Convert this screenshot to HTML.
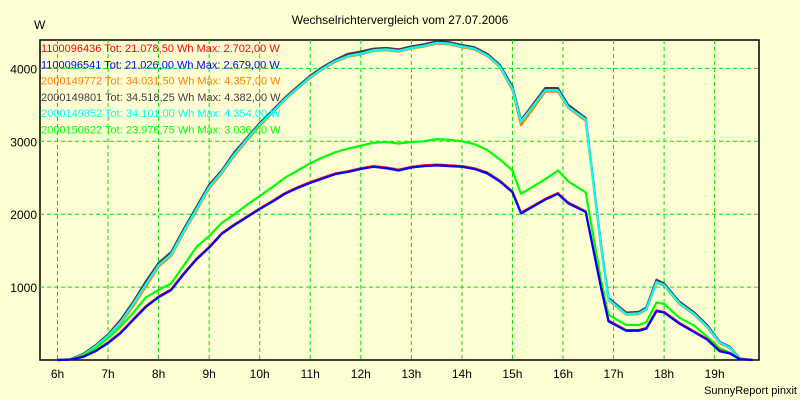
<!DOCTYPE html>
<html><head><meta charset="utf-8"><style>
html,body{margin:0;padding:0;background:#ffffd4;}
svg{display:block;font-family:"Liberation Sans",sans-serif;}
</style></head><body>
<svg id="chart" width="800" height="400" xmlns="http://www.w3.org/2000/svg">
<rect x="0" y="0" width="800" height="400" fill="#ffffd4"/>
<text x="400" y="24" text-anchor="middle" font-size="12" fill="#000">Wechselrichtervergleich vom 27.07.2006</text>
<text x="34" y="29" font-size="12" fill="#000">W</text>
<text x="797" y="394" text-anchor="end" font-size="11" fill="#000">SunnyReport pinxit</text>
<g id="grid"></g>
<g id="axes"></g>
<g id="series"></g>
<g id="legend"></g>
</svg>
<script>
const hours = [6,7,8,9,10,11,12,13,14,15,16,17,18,19];
const hourLabels = ["6h","7h","8h","9h","10h","11h","12h","13h","14h","15h","16h","17h","18h","19h"];
const yTicks = [1000,2000,3000,4000];
const times = [6,6.25,6.5,6.75,7,7.25,7.5,7.75,8,8.25,8.5,8.75,9,9.25,9.5,9.75,10,10.25,10.5,10.75,11,11.25,11.5,11.75,12,12.25,12.5,12.75,13,13.25,13.5,13.75,14,14.25,14.5,14.75,15,15.17,15.65,15.9,16.1,16.45,16.75,16.9,17.25,17.5,17.65,17.85,18,18.3,18.6,18.85,19.1,19.3,19.5,19.75];
const darkVals = [0,10,80,200,350,550,800,1080,1330,1480,1800,2100,2400,2600,2850,3050,3250,3420,3600,3750,3900,4020,4120,4200,4230,4270,4280,4260,4300,4330,4370,4360,4320,4290,4200,4050,3750,3290,3730,3730,3500,3320,1600,850,650,660,720,1100,1050,800,650,480,250,180,20,0];
const cyanVals = [0,8,70,185,330,520,770,1040,1300,1450,1770,2070,2370,2580,2820,3030,3230,3400,3580,3730,3880,4000,4100,4170,4200,4250,4260,4240,4280,4310,4350,4340,4300,4270,4180,4030,3720,3270,3700,3700,3470,3300,1580,830,630,640,700,1070,1030,780,630,460,240,170,15,0];
const orangeVals = [0,6,60,170,310,500,740,1010,1280,1430,1750,2050,2350,2560,2800,3010,3210,3390,3570,3720,3870,3990,4090,4160,4190,4240,4250,4230,4270,4300,4340,4330,4290,4260,4170,4020,3700,3220,3680,3680,3460,3280,1560,820,620,630,690,1060,1020,770,620,450,230,160,10,0];
const redVals = [0,5,45,125,240,380,560,740,870,970,1190,1390,1550,1740,1860,1970,2080,2180,2290,2370,2440,2500,2560,2590,2630,2660,2640,2610,2650,2670,2680,2670,2660,2630,2570,2460,2310,2020,2210,2290,2160,2040,1010,540,410,410,440,680,660,510,390,290,130,95,12,0];
const blueVals = [0,5,40,120,230,370,550,730,860,960,1180,1380,1540,1730,1850,1960,2070,2170,2280,2360,2430,2490,2550,2580,2620,2650,2630,2600,2640,2660,2670,2660,2650,2620,2560,2450,2300,2010,2200,2280,2150,2030,1000,530,400,400,430,670,650,500,380,280,120,90,10,0];
const greenVals = [0,10,60,160,300,460,650,860,960,1050,1300,1550,1700,1880,2000,2130,2250,2370,2500,2600,2700,2780,2850,2900,2940,2980,2990,2970,2990,3000,3030,3020,3000,2960,2880,2750,2600,2280,2480,2600,2450,2300,1100,620,480,480,520,790,770,580,470,320,160,100,15,0];
const seriesNames = ["1100096436","1100096541","2000149772","2000149801","2000149852","2000150622"];
const seriesTot = ["21.078,50","21.026,00","34.031,50","34.518,25","34.101,00","23.976,75"];
const seriesMax = ["2.702,00","2.679,00","4.357,00","4.382,00","4.354,00","3.036,00"];
const seriesColors = ["#ff0000","#0000ff","#ff8000","#483848","#00ffff","#00ff00"];

const NS="http://www.w3.org/2000/svg";
const L=40,R=759,T=40,B=360;
function xs(h){return 57.5+(h-6)*50.55;}
function ys(v){return 360-v*0.0729;}
function mk(tag,attrs,parent){const e=document.createElementNS(NS,tag);for(const k in attrs)e.setAttribute(k,attrs[k]);parent.appendChild(e);return e;}
const grid=document.getElementById('grid'),axes=document.getElementById('axes'),ser=document.getElementById('series'),leg=document.getElementById('legend');
mk('rect',{x:L,y:T,width:R-L,height:B-T,fill:'#ffffd4',stroke:'#000','stroke-width':1.5},grid);
hours.forEach((h,i)=>{
  const g=mk('line',{x1:xs(h),x2:xs(h),y1:T,y2:B,stroke:'#00e000','stroke-dasharray':'4,3','stroke-width':1},grid);
  
  
  const t=mk('text',{x:xs(h),y:378,'text-anchor':'middle','font-size':12,fill:'#000'},axes);
  t.textContent=hourLabels[i];
  
  
});
yTicks.forEach(v=>{
  const g=mk('line',{x1:L,x2:R,y1:ys(v),y2:ys(v),stroke:'#00e000','stroke-dasharray':'4,3','stroke-width':1},grid);
  
  
  const t=mk('text',{x:37,y:ys(v)+5,'text-anchor':'end','font-size':12,fill:'#000'},axes);
  t.textContent=String(v);
  
  
});
const allVals=[redVals,blueVals,orangeVals,darkVals,cyanVals,greenVals];
const order=[3,2,4,5,0,1];
order.forEach(i=>{
  const pts=times.map((t,j)=>xs(t).toFixed(1)+','+ys(allVals[i][j]).toFixed(1)).join(' ');
  const p=mk('polyline',{points:pts,fill:'none',stroke:seriesColors[i],'stroke-width':2.2,'stroke-linejoin':'round'},ser);
  
  
});
seriesNames.forEach((n,i)=>{
  const t=mk('text',{x:41,y:52+i*16.3,'font-size':11,fill:seriesColors[i]},leg);
  t.textContent=n+' Tot: '+seriesTot[i]+' Wh Max: '+seriesMax[i]+' W';
  
  
});
</script>
</body></html>
